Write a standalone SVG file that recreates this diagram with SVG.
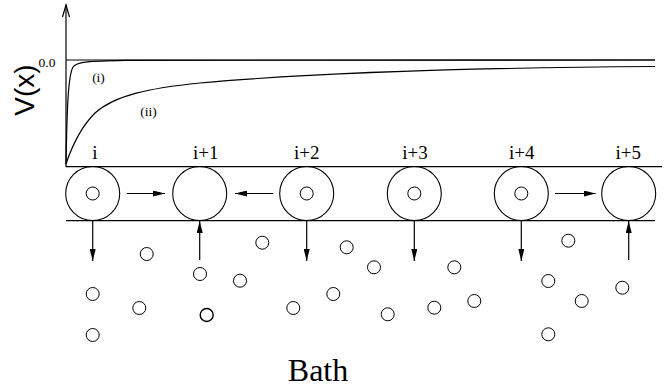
<svg xmlns="http://www.w3.org/2000/svg" width="669" height="388" viewBox="0 0 669 388">
<style>
.ln{stroke:#000;stroke-width:1.2;fill:none}
.big{fill:none;stroke:#000;stroke-width:1.1}
.sm{fill:none;stroke:#000;stroke-width:1}
.serif{font-family:"Liberation Serif","Times New Roman",Tinos,"DejaVu Serif",serif;fill:#000}
.lbl{font-size:19px;text-anchor:middle}
.arr{stroke:#000;stroke-width:1.2;fill:none;marker-end:url(#ah)}
</style>
<defs>
<marker id="ah" viewBox="0 0 12 6" refX="12" refY="3" markerWidth="12" markerHeight="6" markerUnits="userSpaceOnUse" orient="auto">
<path d="M0,0 L12,3 L0,6 Z" fill="#000"/>
</marker>
</defs>
<rect width="669" height="388" fill="#fff"/>
<g id="plot">
<line class="ln" x1="66" y1="5" x2="66" y2="167"/>
<path class="ln" d="M62.5,17 L66,5 L69.5,17"/>
<line class="ln" x1="66" y1="60" x2="655" y2="60"/>
<path class="ln" d="M66,164 C67,110 68,76 73,67 C77,61.5 90,61 125,60.3 L655,60"/>
<path class="ln" d="M66,164 C72,146 80,128 95,113 C115,95 150,88 200,83 C300,74 450,68 655,66.5"/>
<text class="serif" x="47" y="66.5" font-size="13.5" text-anchor="middle">0.0</text>
<text class="serif" x="98.5" y="81.5" font-size="13.5" text-anchor="middle">(i)</text>
<text class="serif" x="148.5" y="115.5" font-size="13.5" text-anchor="middle">(ii)</text>
<text transform="translate(34,90) rotate(-90)" font-family="'Liberation Sans', Arial, sans-serif" font-size="28" text-anchor="middle">V(x)</text>
</g>
<g id="channel">
<line class="ln" x1="66" y1="166.7" x2="662" y2="166.7"/>
<line class="ln" x1="66" y1="220.7" x2="655" y2="220.7"/>
</g>
<g id="site-i"><circle class="big" cx="92.7" cy="193.5" r="27"/><circle class="sm" cx="92.7" cy="193.5" r="6.5"/><text class="serif lbl" x="95" y="159">i</text></g>
<g id="site-i1"><circle class="big" cx="199.7" cy="193.5" r="27"/><text class="serif lbl" x="205.8" y="159">i+1</text></g>
<g id="site-i2"><circle class="big" cx="306.7" cy="193.5" r="27"/><circle class="sm" cx="306.7" cy="193.5" r="6.5"/><text class="serif lbl" x="306.7" y="159">i+2</text></g>
<g id="site-i3"><circle class="big" cx="414.3" cy="193.5" r="27"/><circle class="sm" cx="414.3" cy="193.5" r="6.5"/><text class="serif lbl" x="415" y="159">i+3</text></g>
<g id="site-i4"><circle class="big" cx="521.3" cy="193.5" r="27"/><circle class="sm" cx="521.3" cy="193.5" r="6.5"/><text class="serif lbl" x="521.7" y="159">i+4</text></g>
<g id="site-i5"><circle class="big" cx="628.7" cy="193.5" r="27"/><text class="serif lbl" x="628.3" y="159">i+5</text></g>
<g id="connectors">
<line class="arr" x1="126.7" y1="193.5" x2="165" y2="193.5"/>
<line class="arr" x1="273.3" y1="193.5" x2="235" y2="193.5"/>
<line class="arr" x1="555" y1="193.5" x2="595.7" y2="193.5"/>
<line class="arr" x1="92.7" y1="220.7" x2="92.7" y2="261"/>
<line class="arr" x1="199.7" y1="260" x2="199.7" y2="221"/>
<line class="arr" x1="306.7" y1="220.7" x2="306.7" y2="261"/>
<line class="arr" x1="414.3" y1="220.7" x2="414.3" y2="261"/>
<line class="arr" x1="521.3" y1="220.7" x2="521.3" y2="261"/>
<line class="arr" x1="628.7" y1="260" x2="628.7" y2="221"/>
</g>
<g id="bath">
<g class="sm">
<circle cx="146.7" cy="254" r="6.5"/>
<circle cx="262.3" cy="242.7" r="6.5"/>
<circle cx="346.7" cy="247.3" r="6.5"/>
<circle cx="374" cy="267.3" r="6.5"/>
<circle cx="454.3" cy="267.3" r="6.5"/>
<circle cx="568.3" cy="240.7" r="6.5"/>
<circle cx="200" cy="274" r="6.5"/>
<circle cx="240" cy="280.7" r="6.5"/>
<circle cx="548.3" cy="281" r="6.5"/>
<circle cx="92.7" cy="294" r="6.5"/>
<circle cx="139.3" cy="308" r="6.5"/>
<circle cx="206.7" cy="315" r="6.5" stroke-width="1.4"/>
<circle cx="293.3" cy="308" r="6.5"/>
<circle cx="333.3" cy="294" r="6.5"/>
<circle cx="387.7" cy="314.3" r="6.5"/>
<circle cx="434.3" cy="307.7" r="6.5"/>
<circle cx="474.3" cy="301" r="6.5"/>
<circle cx="581.7" cy="301" r="6.5"/>
<circle cx="622.3" cy="287.7" r="6.5"/>
<circle cx="92.7" cy="335" r="6.5"/>
<circle cx="548.3" cy="334.3" r="6.5"/>
</g>
<text class="serif" x="318" y="381" font-size="32" text-anchor="middle">Bath</text>
</g>
</svg>
